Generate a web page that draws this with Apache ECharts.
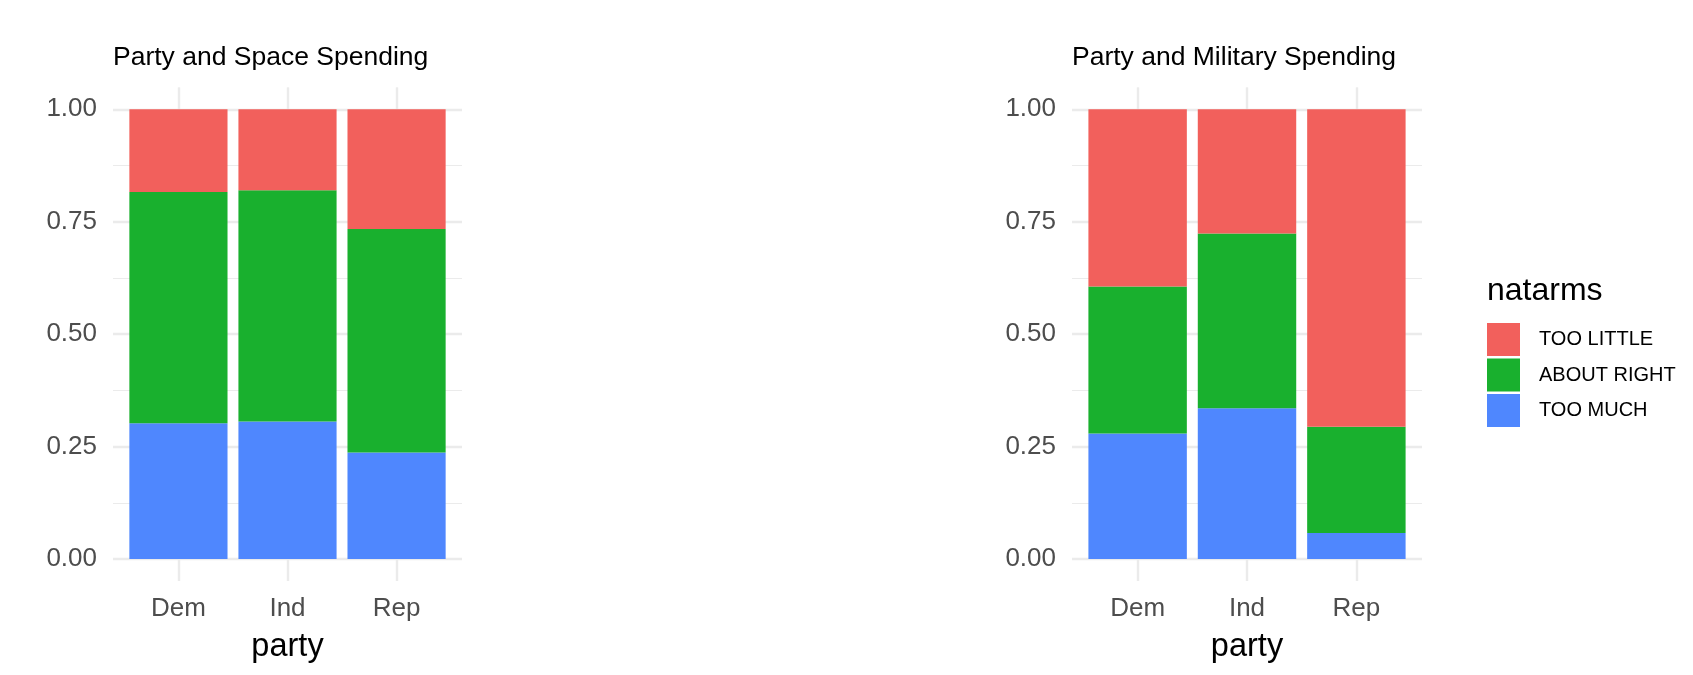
<!DOCTYPE html>
<html>
<head>
<meta charset="utf-8">
<title>Party and Spending</title>
<script src="https://cdn.jsdelivr.net/npm/echarts@6/dist/echarts.min.js"></script>
<style>
  html, body { margin: 0; padding: 0; background: #fff; }
  #bar-chart { width: 1693px; height: 675px; }
</style>
</head>
<body>
<div id="bar-chart"></div>
<script>
// ==============================================================
// Data (shares)
// ==============================================================
var parties = ['Dem', 'Ind', 'Rep'];
var answers = ['TOO LITTLE', 'ABOUT RIGHT', 'TOO MUCH'];
var yTicks = [0, 0.25, 0.5, 0.75, 1];

var spaceTooMuch    = [0.302, 0.306, 0.237];
var spaceAboutRight = [0.514, 0.514, 0.497];
var spaceTooLittle  = [0.184, 0.180, 0.266];

var armsTooMuch    = [0.279, 0.335, 0.058];
var armsAboutRight = [0.327, 0.389, 0.236];
var armsTooLittle  = [0.394, 0.276, 0.706];

// ==============================================================
// Look
// ==============================================================
var font = '"Liberation Sans", Arial, Helvetica, sans-serif';
var gridColor = '#ebebeb';
var colors = { 'TOO LITTLE': '#f2605c', 'ABOUT RIGHT': '#19b02e', 'TOO MUCH': '#4f87fe' };
var plotTop = 109.3, plotHeight = 449.7;

var panels = [
    { title: 'Party and Space Spending', left: 113, width: 349,
      values: { 'TOO MUCH': spaceTooMuch, 'ABOUT RIGHT': spaceAboutRight, 'TOO LITTLE': spaceTooLittle } },
    { title: 'Party and Military Spending', left: 1072, width: 350,
      values: { 'TOO MUCH': armsTooMuch, 'ABOUT RIGHT': armsAboutRight, 'TOO LITTLE': armsTooLittle } }
];

var myChart = echarts.init(document.getElementById('bar-chart'));

var grids = [], xAxes = [], yAxes = [], series = [], titles = [];

panels.forEach(function (p, i) {
    // full panel (gridlines) and the bar area inside ggplot's 0.6 expansion
    var unit = p.width / 3.2;
    grids.push({ left: p.left, top: plotTop, width: p.width, height: plotHeight });
    grids.push({ left: p.left + unit * 0.1, top: plotTop, width: unit * 3, height: plotHeight });

    xAxes.push({ gridIndex: 2 * i, type: 'value', show: false });
    xAxes.push({
        gridIndex: 2 * i + 1, type: 'category', data: parties, position: 'bottom',
        axisLine: { show: false },
        axisTick: { show: true, alignWithLabel: true, length: 22, lineStyle: { color: gridColor, width: 2.4 } },
        axisLabel: { margin: 37, fontSize: 26, lineHeight: 26, color: '#4d4d4d', fontFamily: font },
        name: 'party', nameLocation: 'middle', nameGap: 72,
        nameTextStyle: { fontSize: 32.5, lineHeight: 32, color: '#000', fontFamily: font }
    });
    xAxes.push({
        gridIndex: 2 * i + 1, type: 'category', data: parties, position: 'top',
        axisLine: { show: false }, axisLabel: { show: false },
        axisTick: { show: true, alignWithLabel: true, length: 22, lineStyle: { color: gridColor, width: 2.4 } }
    });

    yAxes.push({
        gridIndex: 2 * i, type: 'value',
        min: yTicks[0], max: yTicks[yTicks.length - 1], interval: yTicks[1] - yTicks[0],
        axisLine: { show: false }, axisTick: { show: false },
        axisLabel: { margin: 16, fontSize: 26, color: '#4d4d4d', fontFamily: font,
                     formatter: function (v) { return v.toFixed(2); } },
        splitLine: { lineStyle: { color: gridColor, width: 2.4 } },
        minorTick: { show: false, splitNumber: 2 },
        minorSplitLine: { show: true, lineStyle: { color: gridColor, width: 1.2 } }
    });
    yAxes.push({ gridIndex: 2 * i + 1, type: 'value', min: 0, max: 1, show: false });

    // bottom of the stack first
    ['TOO MUCH', 'ABOUT RIGHT', 'TOO LITTLE'].forEach(function (name) {
        series.push({
            name: name, type: 'bar', stack: 'panel' + i,
            xAxisIndex: 3 * i + 1, yAxisIndex: 2 * i + 1,
            barWidth: '90%',
            itemStyle: { color: colors[name] },
            data: p.values[name]
        });
    });

    titles.push({
        text: p.title, left: p.left, top: 45, padding: 0,
        textStyle: { fontSize: 26.5, lineHeight: 26, fontWeight: 'normal', color: '#000', fontFamily: font }
    });
});

titles.push({
    text: 'natarms', left: 1487, top: 275, padding: 0,
    textStyle: { fontSize: 32, lineHeight: 32, fontWeight: 'normal', color: '#000', fontFamily: font }
});

option = {
    animation: false,
    title: titles,
    legend: {
        orient: 'vertical', left: 1487, top: 323, padding: 0,
        itemWidth: 33, itemHeight: 33, itemGap: 2.5,
        icon: 'rect', selectedMode: false,
        data: answers,
        textStyle: { fontSize: 20, color: '#000', fontFamily: font, padding: [0, 0, 0, 14] }
    },
    grid: grids,
    xAxis: xAxes,
    yAxis: yAxes,
    series: series
};

myChart.setOption(option, true);
</script>
</body>
</html>
